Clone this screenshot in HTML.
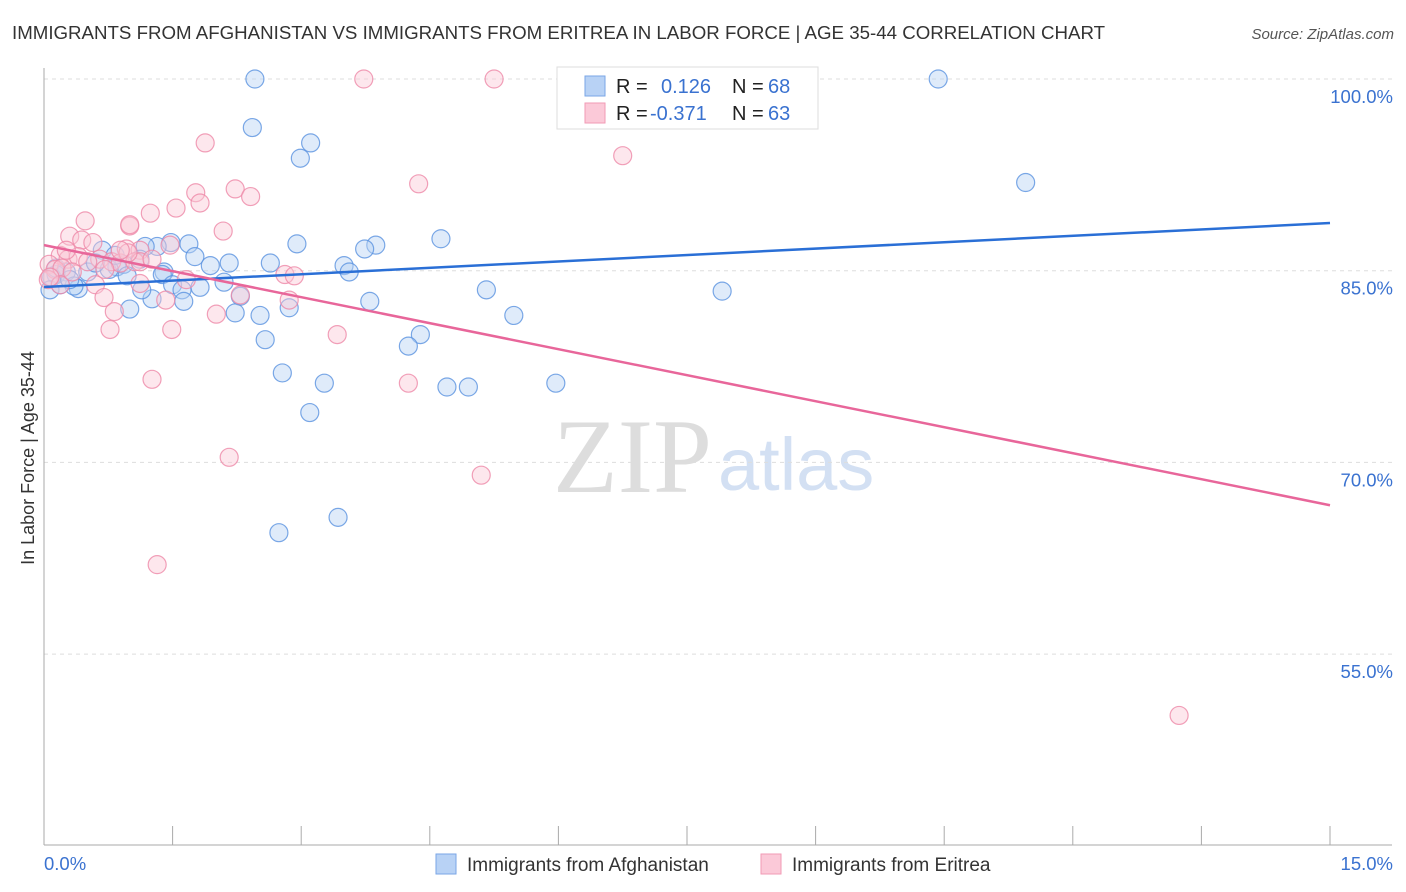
<!DOCTYPE html>
<html><head><meta charset="utf-8">
<style>
body{margin:0;background:#fff;font-family:"Liberation Sans",sans-serif;}
svg{display:block}
</style></head>
<body>
<svg id="chart" width="1406" height="892" xmlns="http://www.w3.org/2000/svg">
<text x="12" y="39" font-size="18.7" fill="#333">IMMIGRANTS FROM AFGHANISTAN VS IMMIGRANTS FROM ERITREA IN LABOR FORCE | AGE 35-44 CORRELATION CHART</text>
<text x="1394" y="39" font-size="15" fill="#555" text-anchor="end" font-style="italic">Source: ZipAtlas.com</text>
<text x="553" y="492" font-size="106" fill="#ddd" font-family="Liberation Serif,serif">ZIP</text>
<text x="718" y="490" font-size="74" fill="#d3e0f3">atlas</text>
<text transform="translate(34,458) rotate(-90)" font-size="18" fill="#333" text-anchor="middle">In Labor Force | Age 35-44</text>
<g id="grid"></g>
<g id="axes"></g>
<g id="points"></g>
<g id="lines"></g>
<g>
<rect x="557" y="67" width="261" height="62" fill="#fff" stroke="#ddd"/>
<rect x="585" y="76" width="20" height="20" fill="#b8d2f5" stroke="#7aa6e6"/>
<rect x="585" y="103" width="20" height="20" fill="#fbc9d8" stroke="#f29ab5"/>
<text x="616" y="93" font-size="20" fill="#222">R = </text><text x="661" y="93" font-size="20" fill="#3a72d0">0.126</text>
<text x="732" y="93" font-size="20" fill="#222">N = </text><text x="768" y="93" font-size="20" fill="#3a72d0">68</text>
<text x="616" y="120" font-size="20" fill="#222">R = </text><text x="650" y="120" font-size="20" fill="#3a72d0">-0.371</text>
<text x="732" y="120" font-size="20" fill="#222">N = </text><text x="768" y="120" font-size="20" fill="#3a72d0">63</text>
</g>
<g>
<rect x="436" y="854" width="20" height="20" fill="#b8d2f5" stroke="#7aa6e6"/>
<text x="467" y="871" font-size="19" fill="#333">Immigrants from Afghanistan</text>
<rect x="761" y="854" width="20" height="20" fill="#fbc9d8" stroke="#f29ab5"/>
<text x="792" y="871" font-size="19" fill="#333">Immigrants from Eritrea</text>
</g>
</svg>
<script>
const blueX=[2.46,6.86,10.43,2.43,3.11,2.99,11.45,4.63,3.87,2.95,3.74,1.69,1.48,1.32,1.18,0.68,2.64,3.50,1.76,1.94,2.16,0.85,0.93,1.12,1.40,1.38,0.76,0.51,0.26,0.14,0.09,0.40,0.35,0.07,0.97,1.50,1.61,1.82,2.10,2.29,1.26,1.63,3.56,5.16,7.91,3.80,2.86,2.23,2.52,1.00,5.48,4.39,4.25,2.58,2.78,3.27,4.70,4.95,5.97,3.10,3.43,2.74,0.19,0.30,0.60,0.83,0.14,1.14];
const blueY=[100,100,100,96.2,95.0,93.8,91.9,87.5,87.0,87.1,86.7,87.1,87.2,86.9,86.9,86.6,85.6,85.4,86.1,85.4,85.6,85.3,85.5,85.9,84.9,84.7,85.1,84.9,84.9,84.7,84.5,83.6,83.8,83.5,84.6,83.9,83.5,83.7,84.1,83.0,82.8,82.6,84.9,83.5,83.4,82.6,82.1,81.7,81.5,82.0,81.5,80.0,79.1,79.6,77.0,76.2,75.9,75.9,76.2,73.9,65.7,64.5,83.9,84.3,85.6,86.2,85.2,83.5];
const pinkX=[3.73,5.25,1.88,6.75,4.37,1.77,2.23,2.41,1.82,1.54,1.24,1.00,0.48,2.09,0.30,0.44,0.57,1.00,1.47,0.96,1.12,0.19,0.28,0.40,0.65,0.79,0.06,0.13,0.21,0.89,1.06,0.05,0.60,2.81,2.92,1.12,1.66,0.70,1.42,0.82,0.77,2.01,2.86,2.29,3.42,1.49,1.26,4.25,2.16,5.10,1.32,13.24,0.19,0.33,0.51,0.71,1.12,0.98,0.07,0.26,0.89,1.26];
const pinkY=[100,100,95.0,94.0,91.8,91.1,91.4,90.8,90.3,89.9,89.5,88.5,88.9,88.1,87.7,87.4,87.2,88.6,87.0,86.7,86.6,86.2,85.9,86.1,85.9,85.7,85.5,85.1,85.2,85.6,85.7,84.3,83.9,84.7,84.6,84.0,84.3,82.9,82.7,81.8,80.4,81.6,82.7,83.1,80.0,80.4,76.5,76.2,70.4,69.0,62.0,50.2,83.9,84.9,85.7,85.1,85.7,86.4,84.5,86.6,86.6,85.9];
const blueTrend=[83.72,88.73];
const pinkTrend=[87.0,66.65];
const yTicks=[100,85,70,55];
const xTickLabels=["0.0%","15.0%"];
const NS="http://www.w3.org/2000/svg";
const x=v=>44+v/15*1286;
const y=v=>79+(100-v)*12.78;
function mk(p,t,a){const e=document.createElementNS(NS,t);for(const k in a)e.setAttribute(k,a[k]);document.getElementById(p).appendChild(e);return e;}
yTicks.forEach(t=>{
 const l=mk('grid','line',{x1:44,x2:1392,y1:y(t),y2:y(t),stroke:'#ddd','stroke-dasharray':'4,4'});
 
 
 const tx=mk('grid','text',{x:1393,y:y(t)+24,'font-size':18.5,fill:'#3a72d0','text-anchor':'end'});
 tx.textContent=t.toFixed(1)+'%';
 
 
});
const ax=mk('axes','line',{x1:44,x2:44,y1:68,y2:845,stroke:'#aaa'});


const bx=mk('axes','line',{x1:44,x2:1392,y1:845,y2:845,stroke:'#aaa'});


for(let i=0;i<=10;i++){
 const t=mk('axes','line',{x1:x(i*1.5),x2:x(i*1.5),y1:826,y2:845,stroke:'#aaa'});
 
 
}
[[0,'start',44],[1,'end',1393]].forEach(([i,anc,px])=>{
 const t=mk('axes','text',{x:px,y:870,'font-size':18.5,fill:'#3a72d0','text-anchor':anc});
 t.textContent=xTickLabels[i];
 
 
});
function pts(X,Y,fill,stroke,name){
 X.forEach((v,i)=>{
  const c=mk('points','circle',{cx:x(v),cy:y(Y[i]),r:9,fill:fill,'fill-opacity':0.45,stroke:stroke,'stroke-width':1.2,'stroke-opacity':0.8});
  
  
 });
}
pts(blueX,blueY,'#b8d2f5','#5a92e0','afghanistan-point');
pts(pinkX,pinkY,'#fbc9d8','#ee88a8','eritrea-point');
const bl=mk('lines','line',{x1:x(0),y1:y(blueTrend[0]),x2:x(15),y2:y(blueTrend[1]),stroke:'#2a6fd6','stroke-width':2.5});


const pl=mk('lines','line',{x1:x(0),y1:y(pinkTrend[0]),x2:x(15),y2:y(pinkTrend[1]),stroke:'#e8669a','stroke-width':2.5});


</script>
</body></html>
